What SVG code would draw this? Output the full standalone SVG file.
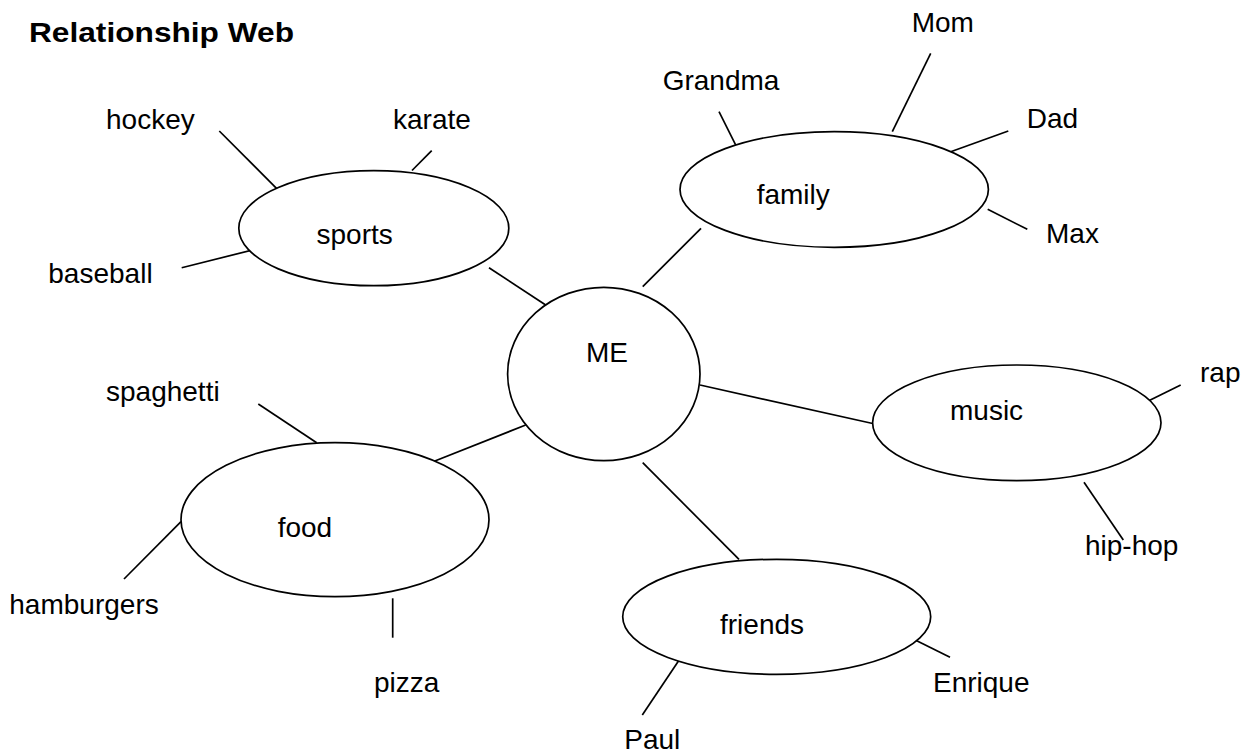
<svg xmlns="http://www.w3.org/2000/svg" width="1244" height="755" viewBox="0 0 1244 755">
<style>
.n{fill:#fff;stroke:#000;stroke-width:1.7}
.c line{stroke:#000;stroke-width:1.7;stroke-linecap:butt}
text{font-family:"Liberation Sans",Arial,sans-serif;font-size:28px;fill:#000}
.t{font-weight:bold}
</style>
<rect width="1244" height="755" fill="#fff"/>
<text class="t" x="29" y="42" textLength="265" lengthAdjust="spacingAndGlyphs">Relationship Web</text>
<g class="c" id="connectors">
<line x1="489" y1="267.7" x2="545.7" y2="305"/>
<line x1="701" y1="228.3" x2="642.7" y2="286.7"/>
<line x1="700" y1="385" x2="872.7" y2="423.5"/>
<line x1="525.7" y1="425" x2="431.7" y2="462.3"/>
<line x1="642.7" y1="462.7" x2="739" y2="559.3"/>
<line x1="219.3" y1="131" x2="277.5" y2="189.3"/>
<line x1="431.7" y1="150.7" x2="412" y2="170.5"/>
<line x1="181.7" y1="267.7" x2="259.3" y2="248.3"/>
<line x1="719" y1="111.7" x2="739" y2="151.7"/>
<line x1="930.7" y1="53.3" x2="892.3" y2="131.7"/>
<line x1="1008.3" y1="131" x2="950.7" y2="151.7"/>
<line x1="987.7" y1="209.3" x2="1027.3" y2="229.3"/>
<line x1="1180.7" y1="385" x2="1141.7" y2="404.3"/>
<line x1="1084" y1="482.3" x2="1123.3" y2="540"/>
<line x1="642.3" y1="715" x2="681" y2="657.3"/>
<line x1="910.7" y1="637.7" x2="950" y2="657.3"/>
<line x1="258.3" y1="404" x2="316.7" y2="442.7"/>
<line x1="124" y1="579" x2="181" y2="521.7"/>
<line x1="392.7" y1="598.3" x2="392.7" y2="637.7"/>
</g>
<g id="me"><ellipse class="n" cx="603.8" cy="374" rx="96.2" ry="86.7"/><text x="586" y="361.7">ME</text></g>
<g id="sports"><ellipse class="n" cx="373.8" cy="228.2" rx="135" ry="57.5"/><text x="316.5" y="244">sports</text></g>
<g id="family"><ellipse class="n" cx="834.2" cy="189.5" rx="154.2" ry="57.8"/><text x="756.7" y="204">family</text></g>
<g id="music"><ellipse class="n" cx="1016.8" cy="422.8" rx="144.2" ry="57.8"/><text x="950" y="420">music</text></g>
<g id="friends"><ellipse class="n" cx="776.7" cy="616.8" rx="154" ry="57.5"/><text x="720" y="634.3">friends</text></g>
<g id="food"><ellipse class="n" cx="335" cy="519.7" rx="154" ry="77"/><text x="277.7" y="537.3">food</text></g>
<g id="hockey"><text x="106" y="129.3">hockey</text></g>
<g id="karate"><text x="393" y="129.3">karate</text></g>
<g id="baseball"><text x="48.3" y="283.3">baseball</text></g>
<g id="grandma"><text x="662.7" y="90">Grandma</text></g>
<g id="mom"><text x="911.7" y="32.3">Mom</text></g>
<g id="dad"><text x="1026.7" y="128.3">Dad</text></g>
<g id="max"><text x="1046" y="243.3">Max</text></g>
<g id="rap"><text x="1200" y="381.7">rap</text></g>
<g id="hiphop"><text x="1085" y="555">hip-hop</text></g>
<g id="enrique"><text x="933" y="692.3">Enrique</text></g>
<g id="paul"><text x="624.3" y="749">Paul</text></g>
<g id="spaghetti"><text x="106" y="400.7">spaghetti</text></g>
<g id="hamburgers"><text x="9.3" y="614.3">hamburgers</text></g>
<g id="pizza"><text x="374" y="691.7">pizza</text></g>
</svg>
